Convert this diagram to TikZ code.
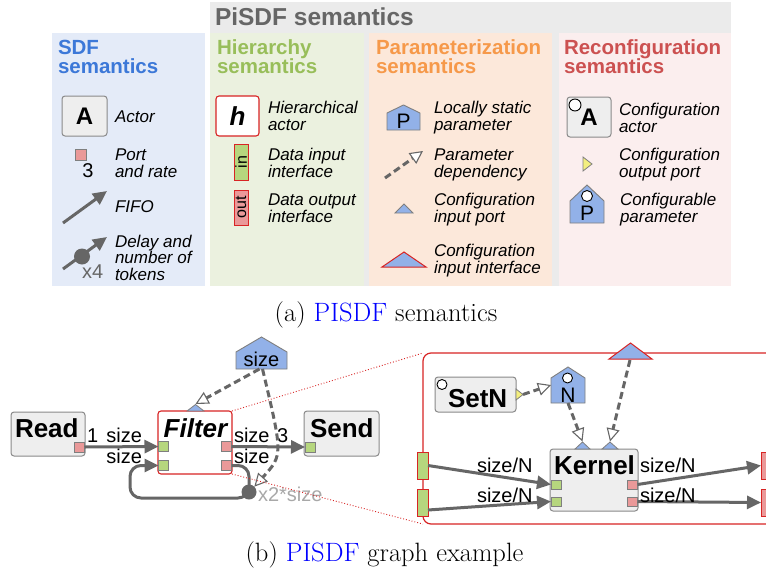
\documentclass[tikz,border=0pt]{standalone}
\usepackage{fontspec}
\newfontfamily\arial{Liberation Sans}
\usetikzlibrary{arrows.meta,calc}

\definecolor{pisdfbg}{HTML}{EBEBEB}
\definecolor{sdfbg}{HTML}{E4EBF8}
\definecolor{hierbg}{HTML}{EBF1DF}
\definecolor{parambg}{HTML}{FCE8DA}
\definecolor{reconfbg}{HTML}{FBEEEE}
\definecolor{sdfcol}{HTML}{3C78D8}
\definecolor{hiercol}{HTML}{98BE5A}
\definecolor{paramcol}{HTML}{F6994A}
\definecolor{reconfcol}{HTML}{CC5151}
\definecolor{titlegray}{HTML}{666666}
\definecolor{lgray}{HTML}{666666}
\definecolor{xgray}{HTML}{A8A8A8}
\definecolor{actorfill}{HTML}{EEEEEE}
\definecolor{actordraw}{HTML}{8A8A8A}
\definecolor{portdraw}{HTML}{7F7F7F}
\definecolor{pred}{HTML}{EA9999}
\definecolor{pgreen}{HTML}{B6D67E}
\definecolor{pblue}{HTML}{92B1E8}
\definecolor{pyellow}{HTML}{F3EE7E}
\definecolor{hred}{HTML}{D82424}
\definecolor{linkblue}{HTML}{0000FF}

\newcommand{\legline}[4]{\node[legtxt, anchor=base west] (#1) at (#2,#3) {#4};}

\begin{document}
\begin{tikzpicture}[x=1pt,y=-1pt,
  every node/.style={inner sep=0pt, outer sep=0pt},
  legtxt/.style={font=\arial\itshape\fontsize{17}{17}\selectfont},
  paneltitle/.style={font=\arial\bfseries\fontsize{20.5}{20}\selectfont, anchor=base west},
  boxlbl/.style={font=\arial\bfseries\fontsize{26}{26}\selectfont},
  ratelbl/.style={font=\arial\fontsize{20}{20}\selectfont},
  actor/.style={draw=actordraw, fill=actorfill, rounded corners=3, line width=1},
  hactor/.style={draw=hred, fill=white, rounded corners=3, line width=1.1},
  port/.style={draw=portdraw, line width=0.8},
  iface/.style={draw=hred, line width=1},
  cfgport/.style={draw=portdraw, fill=pblue, line width=0.8},
  cfgiface/.style={draw=hred, fill=pblue, line width=1},
  paramshape/.style={draw=portdraw, fill=pblue, line width=0.9},
  cfgdot/.style={circle, draw=black, fill=white, line width=0.9},
  delaydot/.style={circle, fill=lgray},
  fifo/.style={draw=lgray, line width=3, -{Triangle[length=14, width=13]}},
  dep/.style={draw=lgray, line width=3, dash pattern=on 7 off 4,
    -{Triangle[length=13, width=13, fill=white, line width=1.1]}},
  zoomline/.style={draw=hred, line width=0.9, dotted}
]
\useasboundingbox (0,0) rectangle (766,576);
\clip (0,0) rectangle (766,576);
\fill[white] (0,0) rectangle (766,576);

% ---------- semantics panels ----------
\fill[pisdfbg] (210,2) rectangle (731,286);
\fill[sdfbg] (52,33) rectangle (205,286);
\fill[hierbg] (210,33) rectangle (364,286);
\fill[parambg] (369,33) rectangle (552,286);
\fill[reconfbg] (559,33) rectangle (731,286);

\node[anchor=base west, text=titlegray, font=\arial\bfseries\fontsize{24.5}{24}\selectfont] (tpisdf) at (215,25) {PiSDF semantics};

\node[paneltitle, text=sdfcol] (tsdf1) at (58,54) {SDF};
\node[paneltitle, text=sdfcol] (tsdf2) at (58,73) {semantics};
\node[paneltitle, text=hiercol] (thr1) at (217,54) {Hierarchy};
\node[paneltitle, text=hiercol] (thr2) at (217,73) {semantics};
\node[paneltitle, text=paramcol] (tpa1) at (376,54) {Parameterization};
\node[paneltitle, text=paramcol] (tpa2) at (376,73) {semantics};
\node[paneltitle, text=reconfcol] (tre1) at (564,54) {Reconfiguration};
\node[paneltitle, text=reconfcol] (tre2) at (564,73) {semantics};

% SDF items
\node[actor, minimum width=45, minimum height=40, font=\arial\bfseries\fontsize{24}{24}\selectfont] (legA) at (84.5,116) {A};
\legline{tactor}{115}{122}{Actor}
\node[port, fill=pred, minimum width=11, minimum height=11] (legport) at (80.5,154.5) {};
\node[ratelbl, anchor=base] (legrate) at (88,177) {3};
\legline{tport1}{115}{160}{Port}
\legline{tport2}{115}{177}{and rate}
\coordinate (fifoA) at (63,223);
\coordinate (fifoB) at (107,191);
\draw[fifo] (fifoA) -- (fifoB);
\legline{tfifo}{115}{212}{FIFO}
\coordinate (dlyA) at (63,269);
\coordinate (dlyB) at (107,237);
\draw[fifo] (dlyA) -- (dlyB);
\node[delaydot, minimum size=16] (legdly) at (82,256.5) {};
\node[ratelbl, text=lgray, anchor=base west] (legx4) at (82,278) {x4};
\legline{tdly1}{115}{247}{Delay and}
\legline{tdly2}{115}{263}{number of}
\legline{tdly3}{115}{280}{tokens}

% Hierarchy items
\node[hactor, minimum width=43, minimum height=40, font=\arial\bfseries\itshape\fontsize{26}{26}\selectfont] (legh) at (237.5,116) {h};
\legline{thier1}{268}{113}{Hierarchical}
\legline{thier2}{268}{130}{actor}
\node[iface, fill=pgreen, rotate=90, minimum width=36, minimum height=14, font=\arial\fontsize{16}{16}\selectfont] (legin) at (241,162) {in};
\legline{tin1}{268}{160}{Data input}
\legline{tin2}{268}{177}{interface}
\node[iface, fill=pred, rotate=90, minimum width=35, minimum height=14, font=\arial\fontsize{16}{16}\selectfont] (legout) at (241,207.5) {out};
\legline{tout1}{268}{205}{Data output}
\legline{tout2}{268}{222}{interface}

% Parameterization items
\path[paramshape] (387,130) -- (387,113) -- (403.5,105) -- (420,113) -- (420,130) -- cycle;
\node[ratelbl, anchor=base, font=\arial\fontsize{21}{21}\selectfont] (legP) at (403.5,128) {P};
\legline{tls1}{434}{113}{Locally static}
\legline{tls2}{434}{130}{parameter}
\coordinate (depA) at (385,178);
\coordinate (depB) at (423,151);
\draw[dep] (depA) -- (depB);
\legline{tpd1}{434}{160}{Parameter}
\legline{tpd2}{434}{177}{dependency}
\path[cfgport] (395,213) -- (404,204) -- (413,213) -- cycle;
\legline{tcip1}{434}{205}{Configuration}
\legline{tcip2}{434}{222}{input port}
\path[cfgiface] (382,267) -- (404,252) -- (426,267) -- cycle;
\legline{tcii1}{434}{256}{Configuration}
\legline{tcii2}{434}{273}{input interface}

% Reconfiguration items
\node[actor, minimum width=44, minimum height=40, font=\arial\bfseries\fontsize{24}{24}\selectfont] (legcA) at (589,117) {A};
\node[cfgdot, minimum size=12] (legcAdot) at (575,105) {};
\legline{tca1}{619}{115}{Configuration}
\legline{tca2}{619}{132}{actor}
\path[draw=portdraw, fill=pyellow, line width=0.8] (583,157) -- (592,164) -- (583,171) -- cycle;
\legline{tcop1}{619}{160}{Configuration}
\legline{tcop2}{619}{177}{output port}
\path[paramshape] (570,223) -- (570,201) -- (587,185) -- (604,201) -- (604,223) -- cycle;
\node[cfgdot, minimum size=11] (legcPdot) at (587,196) {};
\node[anchor=base, font=\arial\fontsize{21}{21}\selectfont] (legcP) at (587,220) {P};
\legline{tcp1}{620}{205}{Configurable}
\legline{tcp2}{620}{222}{parameter}

\node[anchor=base, font=\fontsize{26.5}{30}\selectfont] (capA) at (386,321) {(a) \textcolor{linkblue}{PISDF} semantics};

% ---------- graph example ----------
% hierarchical actor content box
\node[draw=hred, fill=white, rounded corners=8, line width=1.2, minimum width=352, minimum height=171] (hbox) at (599,438.5) {};

% top level actors
\node[actor, minimum width=74, minimum height=44] (read) at (48,434) {};
\node[boxlbl, anchor=base west] (readlbl) at (15,437) {Read};
\node[port, fill=pred, minimum width=10, minimum height=10] (readout) at (79.5,447) {};

\node[hactor, minimum width=74, minimum height=63] (filter) at (195,442.5) {};
\node[boxlbl, font=\arial\bfseries\itshape\fontsize{26}{26}\selectfont, anchor=base] (filterlbl) at (195.5,437) {Filter};
\node[port, fill=pgreen, minimum width=10, minimum height=10] (fin1) at (163.5,446.5) {};
\node[port, fill=pgreen, minimum width=10, minimum height=10] (fin2) at (163.5,465.5) {};
\node[port, fill=pred, minimum width=10, minimum height=10] (fout1) at (226.5,446.5) {};
\node[port, fill=pred, minimum width=10, minimum height=10] (fout2) at (226.5,465.5) {};
\path[cfgport] (187,411) -- (195.5,404.5) -- (204,411) -- cycle;
\coordinate (fcfg) at (195.5,404);

\node[actor, minimum width=75, minimum height=45] (send) at (341.5,433.5) {};
\node[boxlbl, anchor=base west] (sendlbl) at (310,437) {Send};
\node[port, fill=pgreen, minimum width=10, minimum height=10] (sendin) at (310,447) {};

% FIFOs
\draw[fifo] (readout.east) -- (fin1.west);
\node[ratelbl, anchor=base west] (r1) at (87,442) {1};
\node[ratelbl, anchor=base east] (r2) at (142,442) {size};
\draw[fifo] (fout1.east) -- (sendin.west);
\node[ratelbl, anchor=base west] (r3) at (234,442) {size};
\node[ratelbl, anchor=base west] (r4) at (277,442) {3};
\draw[fifo, rounded corners=11] (fout2.east) -- (249,465.5) -- (249,498) -- (130,498) -- (130,465.5) -- (fin2.west);
\node[ratelbl, anchor=base east] (r5) at (142,463) {size};
\node[ratelbl, anchor=base west] (r6) at (234,463) {size};
\node[delaydot, minimum size=15] (fdelay) at (249,492) {};
\node[ratelbl, text=xgray, anchor=base west] (dlylbl) at (258,501) {x2*size};

% parameter size
\path[paramshape] (236,369) -- (236,352) -- (261.5,337) -- (287,352) -- (287,369) -- cycle;
\node[minimum width=51, minimum height=32] (sizeparam) at (261.5,353) {};
\node[ratelbl, anchor=base] (sizelbl) at (261.5,366) {size};
\draw[dep] ($(sizeparam.south)+(-2,0)$) -- (fcfg);
\draw[dep] ($(sizeparam.south)+(1,0)$) .. controls (283,455) .. (fdelay.north east);

% zoom lines
\draw[zoomline] (filter.north east) -- (hbox.north west);
\draw[zoomline] (filter.south east) -- (hbox.south west);

% content of Filter
\path[cfgiface] (609,359) -- (630.5,343) -- (652,359) -- cycle;
\coordinate (topif) at (630,360);

\node[actor, minimum width=81, minimum height=35] (setn) at (475.5,394.5) {};
\node[cfgdot, minimum size=10] (setndot) at (442,384.5) {};
\node[boxlbl, anchor=base west] (setnlbl) at (448,407) {SetN};
\path[draw=portdraw, fill=pyellow, line width=0.8] (516,389) -- (523,394.5) -- (516,400) -- cycle;
\coordinate (setnport) at (523,394.5);

\path[paramshape] (551,403) -- (551,378) -- (568,367) -- (585,378) -- (585,403) -- cycle;
\node[minimum width=34, minimum height=36] (nparam) at (568,385) {};
\node[cfgdot, minimum size=10] (ndot) at (567.5,378) {};
\node[anchor=base, font=\arial\fontsize{21}{21}\selectfont] (nlbl) at (568,402) {N};

\node[actor, minimum width=88, minimum height=62] (kernel) at (594,480) {};
\node[boxlbl, anchor=base] (kernellbl) at (594.5,474) {Kernel};
\path[cfgport] (575,449) -- (582.5,442) -- (590,449) -- cycle;
\path[cfgport] (602,449) -- (610,442) -- (618,449) -- cycle;
\coordinate (kcfg1) at (582.5,441.5);
\coordinate (kcfg2) at (610,441.5);
\node[port, fill=pgreen, minimum width=10, minimum height=9] (kin1) at (556,484.5) {};
\node[port, fill=pgreen, minimum width=10, minimum height=9] (kin2) at (556,501.5) {};
\node[port, fill=pred, minimum width=10, minimum height=9] (kout1) at (632.5,484.5) {};
\node[port, fill=pred, minimum width=10, minimum height=9] (kout2) at (632.5,501.5) {};

\draw[dep] (setnport) -- (nparam.west);
\draw[dep] (nparam.south) -- (kcfg1);
\draw[dep] (topif) -- (kcfg2);

% data interfaces
\node[iface, fill=pgreen, minimum width=11, minimum height=27] (lif1) at (422.5,465.5) {};
\node[iface, fill=pgreen, minimum width=11, minimum height=27] (lif2) at (422.5,502.5) {};
\node[iface, fill=pred, minimum width=11, minimum height=27] (rif1) at (766.5,465.5) {};
\node[iface, fill=pred, minimum width=11, minimum height=27] (rif2) at (766.5,502.5) {};

\draw[fifo] (lif1.east) -- (kin1.west);
\draw[fifo] ($(lif2.east)+(0,7.5)$) -- (kin2.west);
\draw[fifo] (kout1.east) -- (rif1.west);
\draw[fifo] (kout2.east) -- (rif2.west);
\node[ratelbl, anchor=base west] (k1) at (477,472) {size/N};
\node[ratelbl, anchor=base west] (k2) at (477,502) {size/N};
\node[ratelbl, anchor=base west] (k3) at (640,472) {size/N};
\node[ratelbl, anchor=base west] (k4) at (640,502) {size/N};

\node[anchor=base, font=\fontsize{26.5}{30}\selectfont] (capB) at (384.5,561) {(b) \textcolor{linkblue}{PISDF} graph example};
\end{tikzpicture}
\end{document}
